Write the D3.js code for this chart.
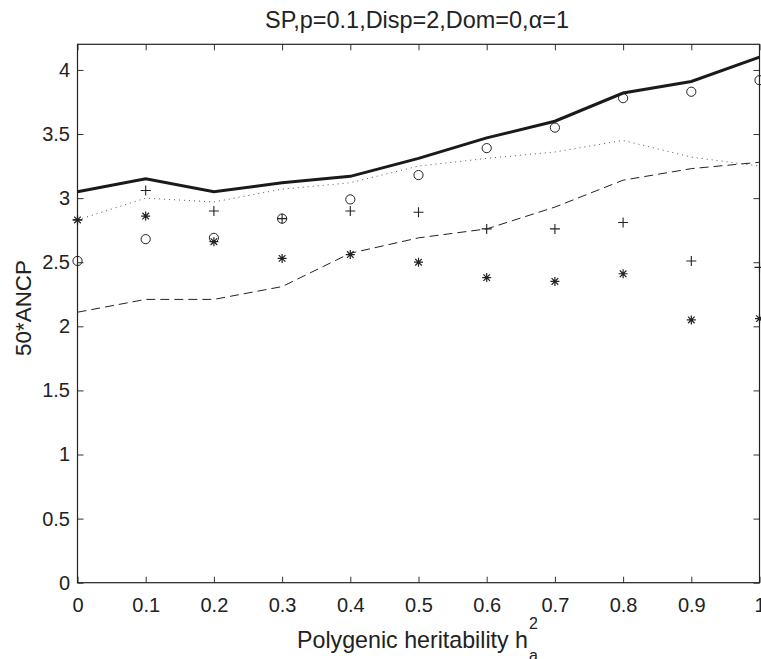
<!DOCTYPE html>
<html>
<head>
<meta charset="utf-8">
<script src="https://cdn.jsdelivr.net/npm/d3@7"></script>
<style>
  body { margin: 0; background: #fff; }
  svg text { font-family: "Liberation Sans", Arial, Helvetica, sans-serif; fill: #222; }
</style>
</head>
<body>
<div id="plot-area"></div>
<script>
// values
const heritability = [0, 0.1, 0.2, 0.3, 0.4, 0.5, 0.6, 0.7, 0.8, 0.9, 1];
const solidSeries  = [3.05, 3.15, 3.05, 3.12, 3.17, 3.31, 3.47, 3.60, 3.82, 3.91, 4.10];
const dottedSeries = [2.83, 3.00, 2.97, 3.07, 3.12, 3.25, 3.31, 3.36, 3.45, 3.32, 3.25];
const dashedSeries = [2.11, 2.21, 2.21, 2.31, 2.57, 2.69, 2.76, 2.93, 3.14, 3.23, 3.28];
const circleSeries = [2.51, 2.68, 2.69, 2.84, 2.99, 3.18, 3.39, 3.55, 3.78, 3.83, 3.92];
const plusSeries   = [2.83, 3.06, 2.90, 2.84, 2.90, 2.89, 2.76, 2.76, 2.81, 2.51, 2.46];
const starSeries   = [2.83, 2.86, 2.66, 2.53, 2.56, 2.50, 2.38, 2.35, 2.41, 2.05, 2.06];
const xTicks = [0, 0.1, 0.2, 0.3, 0.4, 0.5, 0.6, 0.7, 0.8, 0.9, 1];
const yTicks = [0, 0.5, 1, 1.5, 2, 2.5, 3, 3.5, 4];

const width = 761, height = 659;
const margin = {top: 44.3, right: 1.5, bottom: 76.3, left: 77.5};
const w = width - margin.left - margin.right,
    h = height - margin.top - margin.bottom;

const svg = d3.select("#plot-area").append("svg")
    .attr("width", width)
    .attr("height", height);

const g = svg.append("g").attr("transform", "translate(" + margin.left + "," + margin.top + ")");

const x = d3.scaleLinear().domain([0, 1]).range([0, w]);
const y = d3.scaleLinear().domain([0, 4.2]).range([h, 0]);

const fmt = d => String(d);

// fit a text node's font size so it spans roughly the width seen in the figure
function fitWidth(sel, target) {
    let size = parseFloat(sel.attr("font-size"));
    let len = sel.node().getComputedTextLength();
    if (len > 0) sel.attr("font-size", (size * target / len).toFixed(2));
}

// axes, ticks pointing inward like matlab
const tickLen = 6;
g.append("g").attr("transform", "translate(0," + h + ")")
    .call(d3.axisBottom(x).tickValues(xTicks).tickSize(-tickLen).tickPadding(15).tickFormat(fmt));
g.append("g")
    .call(d3.axisLeft(y).tickValues(yTicks).tickSize(-tickLen).tickPadding(7.5).tickFormat(fmt));
g.append("g")
    .call(d3.axisTop(x).tickValues(xTicks).tickSize(-tickLen).tickFormat(""));
g.append("g").attr("transform", "translate(" + w + ",0)")
    .call(d3.axisRight(y).tickValues(yTicks).tickSize(-tickLen).tickFormat(""));

g.selectAll(".domain").remove();
g.selectAll(".tick line").attr("stroke", "#333").attr("stroke-width", 1);
g.selectAll(".tick text").attr("font-size", 20).attr("fill", "#222");

g.append("rect")
    .attr("width", w).attr("height", h)
    .attr("fill", "none").attr("stroke", "#222").attr("stroke-width", 1.2);

// lines
const rows = heritability.map((d, i) => ({h: d, solid: solidSeries[i], dotted: dottedSeries[i], dashed: dashedSeries[i]}));
const line = key => d3.line().x(d => x(d.h)).y(d => y(d[key]));

g.append("path").datum(rows).attr("d", line("dashed"))
    .attr("fill", "none").attr("stroke", "#222").attr("stroke-width", 1)
    .attr("stroke-dasharray", "9,5");
g.append("path").datum(rows).attr("d", line("dotted"))
    .attr("fill", "none").attr("stroke", "#555").attr("stroke-width", 1)
    .attr("stroke-dasharray", "1,4");
g.append("path").datum(rows).attr("d", line("solid"))
    .attr("fill", "none").attr("stroke", "#1a1a1a").attr("stroke-width", 3);

// markers
g.selectAll(".circ").data(heritability).enter().append("circle")
    .attr("cx", d => x(d))
    .attr("cy", (d, i) => y(circleSeries[i]))
    .attr("r", 4.6)
    .attr("fill", "none").attr("stroke", "#222").attr("stroke-width", 1);

const plusPath = "M-5,0H5M0,-5V5";
g.selectAll(".plus").data(heritability).enter().append("path")
    .attr("transform", (d, i) => "translate(" + x(d) + "," + y(plusSeries[i]) + ")")
    .attr("d", plusPath)
    .attr("fill", "none").attr("stroke", "#222").attr("stroke-width", 1.1);

const starPath = "M-4.5,0H4.5M0,-4.5V4.5M-3.3,-3.3L3.3,3.3M-3.3,3.3L3.3,-3.3";
g.selectAll(".star").data(heritability).enter().append("path")
    .attr("transform", (d, i) => "translate(" + x(d) + "," + y(starSeries[i]) + ")")
    .attr("d", starPath)
    .attr("fill", "none").attr("stroke", "#222").attr("stroke-width", 1.2);

// title
const title = svg.append("text")
    .attr("x", 417)
    .attr("y", 28)
    .attr("text-anchor", "middle")
    .attr("font-size", 23)
    .text("SP,p=0.1,Disp=2,Dom=0,\u03b1=1");
fitWidth(title, 304);

// x label with stacked sub/superscript
const xl = svg.append("text")
    .attr("x", 297)
    .attr("y", 648.3)
    .attr("font-size", 23)
    .text("Polygenic heritability h");
fitWidth(xl, 231);
const xlEnd = 297 + xl.node().getComputedTextLength();
svg.append("text").attr("x", xlEnd + 1).attr("y", 628.5).attr("font-size", 16).text("2");
svg.append("text").attr("x", xlEnd + 1).attr("y", 661).attr("font-size", 16).text("a");

// y label
const yl = svg.append("text")
    .attr("transform", "translate(31,308) rotate(-90)")
    .attr("text-anchor", "middle")
    .attr("font-size", 22)
    .text("50*ANCP");
fitWidth(yl, 96);
</script>
</body>
</html>
